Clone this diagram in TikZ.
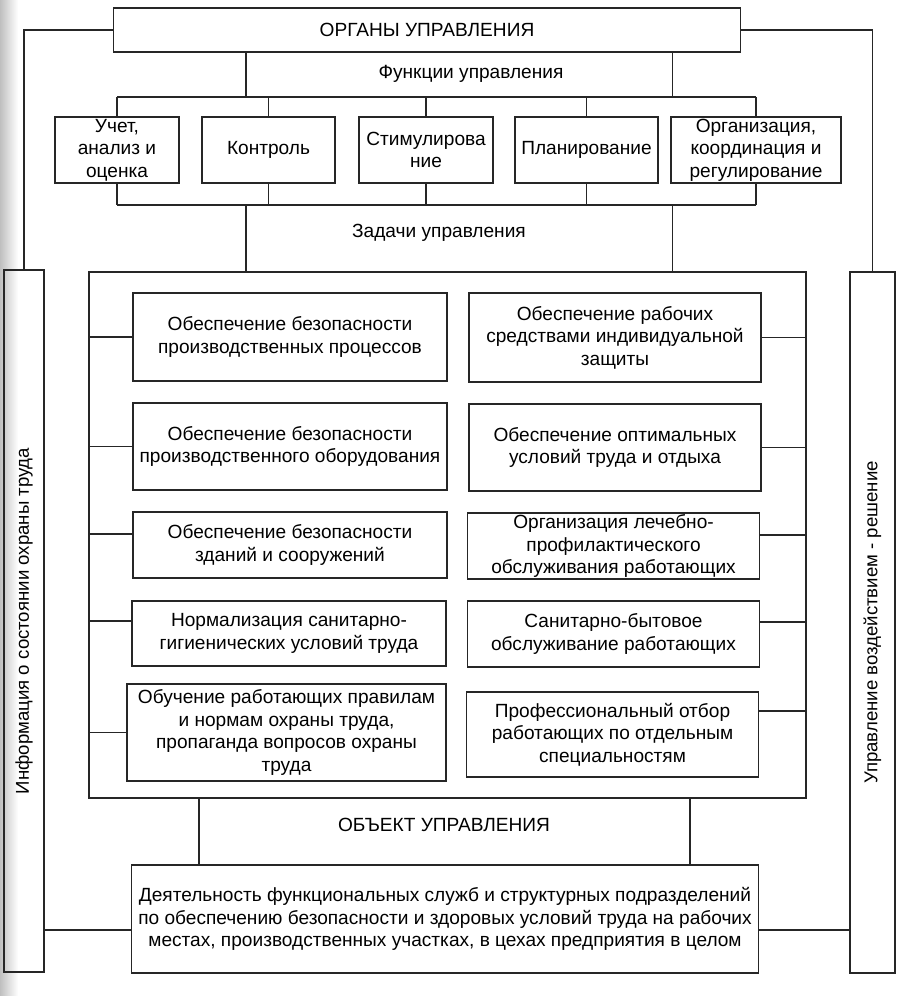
\documentclass[tikz,border=0pt]{standalone}
\usepackage{fontspec}
\setmainfont{Liberation Sans}
\usetikzlibrary{positioning}

\begin{document}
\begin{tikzpicture}[
    x=1pt, y=-1pt,
    every node/.style={font=\fontsize{19.1}{22.6}\selectfont},
    box/.style={draw=black!85, line width=1.3pt, inner sep=0pt, align=center},
    func/.style={box, minimum height=66pt},
    task/.style={box, minimum width=314pt},
    duty/.style={box, minimum width=292pt},
    side/.style={rotate=90, font=\fontsize{18.6}{22.6}\selectfont},
    line/.style={draw=black!85, line width=1.3pt}
]
    \useasboundingbox (0,0) rectangle (912,996);
    % scan shade on the left edge
    \shade[left color=black!25, right color=white] (0,0) rectangle (18,996);

    % management bodies and functions
    \node[box, minimum width=627pt, minimum height=44pt] (organs) at (427,30) {ОРГАНЫ УПРАВЛЕНИЯ};
    \node (funclabel) at (471,74) {Функции управления};
    \node[func, minimum width=124pt] (f1) at (117,150) {Учет,\\анализ и\\оценка};
    \node[func, minimum width=133pt] (f2) at (268.5,150) {Контроль};
    \node[func, minimum width=134pt] (f3) at (426,150) {Стимулирова\\ние};
    \node[func, minimum width=143pt] (f4) at (586.5,150) {Планирование};
    \node[func, minimum width=170pt] (f5) at (756,150) {Организация,\\координация и\\регулирование};
    \node (tasklabel) at (439,233) {Задачи управления};

    \coordinate (ftop) at (0,97);
    \coordinate (fbot) at (0,205);
    \coordinate (ua) at (246,0);
    \coordinate (ub) at (672.5,0);

    % tasks
    \node[box, minimum width=717pt, minimum height=526pt] (tasks) at (447.5,535) {};
    \node[task, minimum height=88pt] (t1) at (290,337) {Обеспечение безопасности\\производственных процессов};
    \node[task, minimum height=87pt] (t2) at (290,446.5) {Обеспечение безопасности\\производственного оборудования};
    \node[task, minimum height=66pt] (t3) at (290,545) {Обеспечение безопасности\\зданий и сооружений};
    \node[task, minimum height=65pt] (t4) at (289,633.5) {Нормализация санитарно-\\гигиенических условий труда};
    \node[task, minimum width=319pt, minimum height=97pt] (t5) at (286.5,732.5) {Обучение работающих правилам\\и нормам охраны труда,\\пропаганда вопросов охраны\\труда};
    \node[duty, minimum height=89pt] (r1) at (615,337.5) {Обеспечение рабочих\\средствами индивидуальной\\защиты};
    \node[duty, minimum height=87pt] (r2) at (615,447.5) {Обеспечение оптимальных\\условий труда и отдыха};
    \node[duty, minimum height=66pt] (r3) at (613.5,546) {Организация лечебно-\\профилактического\\обслуживания работающих};
    \node[duty, minimum height=66pt] (r4) at (613.5,634) {Санитарно-бытовое\\обслуживание работающих};
    \node[duty, minimum height=85pt] (r5) at (612.5,734.5) {Профессиональный отбор\\работающих по отдельным\\специальностям};

    % object
    \node (objlabel) at (444,825) {ОБЪЕКТ УПРАВЛЕНИЯ};
    \node[box, minimum width=627pt, minimum height=108pt] (object) at (445,919) {Деятельность функциональных служб и структурных подразделений\\по обеспечению безопасности и здоровых условий труда на рабочих\\местах, производственных участках, в цехах предприятия в целом};
    \coordinate (oa) at (199,0);
    \coordinate (ob) at (690,0);
    \coordinate (oy) at (0,930);

    % feedback boxes
    \node[box, minimum width=40pt, minimum height=702pt] (info) at (24,621) {};
    \node[side] (infotext) at (info) {Информация о состоянии охраны труда};
    \node[box, minimum width=45pt, minimum height=701pt] (impact) at (872.5,622.5) {};
    \node[side] (impacttext) at (impact) {Управление воздействием - решение};

    % connectors
    \draw[line] (ua |- organs.south) -- (ua |- ftop);
    \draw[line] (ub |- organs.south) -- (ub |- ftop);
    \draw[line] (f1.north |- ftop) -- (f5.north |- ftop);
    \draw[line] (f1.south |- fbot) -- (f5.south |- fbot);
    \foreach \f in {f1,f2,f3,f4,f5} {
        \draw[line] (\f.north) -- (\f.north |- ftop);
        \draw[line] (\f.south) -- (\f.south |- fbot);
    }
    \draw[line] (ua |- fbot) -- (ua |- tasks.north);
    \draw[line] (ub |- fbot) -- (ub |- tasks.north);
    \foreach \t/\s in {t1/0,t2/0,t3/11,t4/12.5,t5/0}
        \draw[line] ([yshift=\s pt]\t.west) coordinate (tc) -- (tc -| tasks.west);
    \foreach \r/\s in {r1/0,r2/0,r3/11,r4/12,r5/23.5}
        \draw[line] ([yshift=\s pt]\r.east) coordinate (rc) -- (rc -| tasks.east);
    \draw[line] (oa |- tasks.south) -- (oa |- object.north);
    \draw[line] (ob |- tasks.south) -- (ob |- object.north);
    \draw[line] (organs.west) -| (info.north);
    \draw[line] (organs.east) -| (impact.north);
    \draw[line] (info.east |- oy) -- (object.west |- oy);
    \draw[line] (object.east |- oy) -- (impact.west |- oy);
\end{tikzpicture}
\end{document}
